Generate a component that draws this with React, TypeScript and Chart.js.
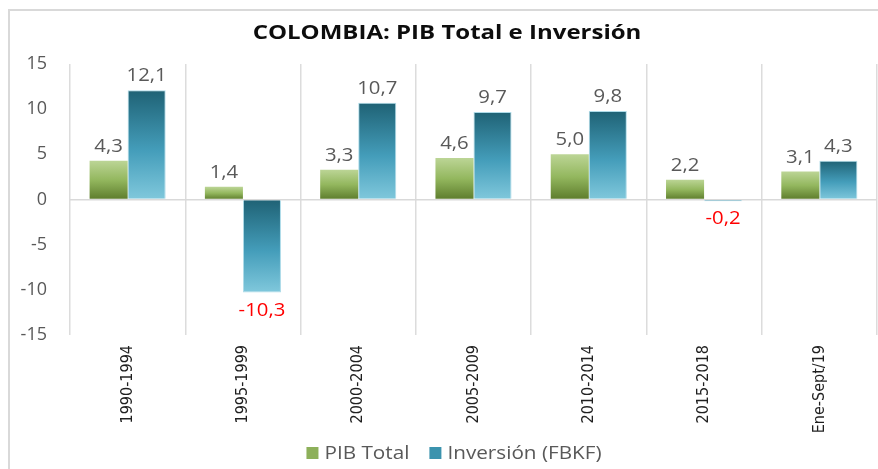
import React, { useEffect, useRef } from "react";
import { Chart, registerables } from "chart.js";

Chart.register(...registerables);

const categories = ["1990-1994", "1995-1999", "2000-2004", "2005-2009", "2010-2014", "2015-2018", "Ene-Sept/19"];
const pibTotal = [4.3, 1.4, 3.3, 4.6, 5.0, 2.2, 3.1];
const inversion = [12.1, -10.3, 10.7, 9.7, 9.8, -0.2, 4.3];
const seriesNames = ["PIB Total", "Inversión (FBKF)"];
const yMin = -15;
const yMax = 15;
const yStep = 5;
const chartTitle = "COLOMBIA: PIB Total e Inversión";

const FONT = "'Open Sans', Lato, sans-serif";
const XFONT = "'DejaVu Sans Condensed', Lato, sans-serif";
const legendColors = ["#8db05a", "#3b93ae"];
const STRETCH = 1.13;

function fmt(v: number) {
  return v.toFixed(1).replace(".", ",");
}

function drawStretched(ctx: CanvasRenderingContext2D, text: string, x: number, y: number, sx: number, align: CanvasTextAlign) {
  ctx.save();
  ctx.translate(x, y);
  ctx.scale(sx, 1);
  ctx.textAlign = align;
  ctx.fillText(text, 0, 0);
  ctx.restore();
}

function barGradient(stops: [number, string][], fallback: string) {
  return (ctx: any) => {
    const chart = ctx.chart;
    const ys = chart.scales && chart.scales.y;
    if (ctx.type !== "data" || !ys || !chart.chartArea) return fallback;
    const v = ctx.raw as number;
    const a = ys.getPixelForValue(Math.max(v, 0));
    const b = ys.getPixelForValue(Math.min(v, 0));
    const g = chart.ctx.createLinearGradient(0, a, 0, Math.max(b, a + 1));
    stops.forEach(([o, c]) => g.addColorStop(o, c));
    return g;
  };
}

const frame = {
  id: "frame",
  beforeDraw(chart: any) {
    const { ctx, width, height } = chart;
    ctx.save();
    ctx.fillStyle = "#ffffff";
    ctx.fillRect(0, 0, width, height);
    ctx.strokeStyle = "#d9d9d9";
    ctx.lineWidth = 2;
    ctx.strokeRect(9, 10, width + 50, height + 50);
    ctx.restore();
  },
};

const titleText = {
  id: "titleText",
  afterDraw(chart: any) {
    const { ctx } = chart;
    ctx.save();
    ctx.font = `bold 20px ${FONT}`;
    ctx.fillStyle = "#0d0d0d";
    ctx.textBaseline = "middle";
    drawStretched(ctx, chartTitle, 447, 33, 1.2, "center");
    ctx.restore();
  },
};

const valueLabels = {
  id: "valueLabels",
  afterDatasetsDraw(chart: any) {
    const { ctx } = chart;
    ctx.save();
    ctx.font = `18px ${FONT}`;
    ctx.textBaseline = "middle";
    chart.data.datasets.forEach((ds: any, di: number) => {
      const meta = chart.getDatasetMeta(di);
      meta.data.forEach((el: any, i: number) => {
        const v = ds.data[i] as number;
        ctx.fillStyle = v < 0 ? "#ff0000" : "#595959";
        const y = v < 0 ? Math.max(el.y, el.base) + 18 : Math.min(el.y, el.base) - 14;
        drawStretched(ctx, fmt(v), el.x, y, STRETCH, "center");
      });
    });
    ctx.restore();
  },
};

const customLegend = {
  id: "customLegend",
  afterDraw(chart: any) {
    const { ctx } = chart;
    ctx.save();
    ctx.font = `18px ${FONT}`;
    ctx.textBaseline = "middle";
    const box = 12;
    const gap = 6;
    const spacing = 20;
    const sx = 1.15;
    const labels = chart.data.datasets.map((d: any) => d.label as string);
    const widths = labels.map((l: string) => box + gap + ctx.measureText(l).width * sx);
    const total = widths.reduce((s: number, w: number) => s + w, 0) + spacing * (labels.length - 1);
    const cx = 454;
    const cy = 453;
    let x = cx - total / 2;
    labels.forEach((l: string, i: number) => {
      ctx.fillStyle = legendColors[i];
      ctx.fillRect(x, cy - box / 2, box, box);
      ctx.fillStyle = "#595959";
      drawStretched(ctx, l, x + box + gap, cy + 1, sx, "left");
      x += widths[i] + spacing;
    });
    ctx.restore();
  },
};

export default function App() {
  const ref = useRef<HTMLCanvasElement | null>(null);

  useEffect(() => {
    if (!ref.current) return;
    const chart = new Chart(ref.current, {
      type: "bar",
      data: {
        labels: categories,
        datasets: [
          {
            label: seriesNames[0],
            data: pibTotal,
            backgroundColor: barGradient(
              [
                [0, "#bcd596"],
                [0.5, "#93b75e"],
                [1, "#5d7c2c"],
              ],
              legendColors[0]
            ),
            borderWidth: 0,
            categoryPercentage: 0.66,
            barPercentage: 1,
          },
          {
            label: seriesNames[1],
            data: inversion,
            backgroundColor: barGradient(
              [
                [0, "#1f6275"],
                [0.55, "#449dba"],
                [1, "#80c8dc"],
              ],
              legendColors[1]
            ),
            borderColor: "rgba(165,215,230,0.9)",
            borderWidth: 1,
            categoryPercentage: 0.66,
            barPercentage: 1,
          },
        ],
      },
      options: {
        animation: false,
        responsive: true,
        maintainAspectRatio: false,
        layout: { padding: { left: 8, right: 1, top: 64, bottom: 34 } },
        plugins: {
          legend: { display: false },
          tooltip: { enabled: false },
          title: { display: false },
        },
        scales: {
          x: {
            grid: { color: "#dcdcdc", lineWidth: 1.5, drawTicks: false, offset: true },
            border: { display: false },
            ticks: {
              autoSkip: false,
              maxRotation: 90,
              minRotation: 90,
              padding: 10,
              color: "#1f1f1f",
              font: { family: XFONT, size: 16 },
            },
            afterFit(s: any) {
              s.height = 100;
            },
          },
          y: {
            min: yMin,
            max: yMax,
            ticks: {
              stepSize: yStep,
              padding: 23,
              color: "#595959",
              font: { family: FONT, size: 18 },
            },
            grid: {
              color: (c: any) => (c.tick && c.tick.value === 0 ? "#d9d9d9" : "rgba(0,0,0,0)"),
              lineWidth: 1.5,
              drawTicks: false,
            },
            border: { display: false },
            afterFit(s: any) {
              s.width = 62;
            },
          },
        },
      },
      plugins: [frame, valueLabels, customLegend, titleText],
    } as any);
    return () => chart.destroy();
  }, []);

  return (
    <div style={{ position: "fixed", left: 0, top: 0, width: 878, height: 469, background: "#fff", overflow: "hidden" }}>
      <canvas ref={ref} />
    </div>
  );
}
